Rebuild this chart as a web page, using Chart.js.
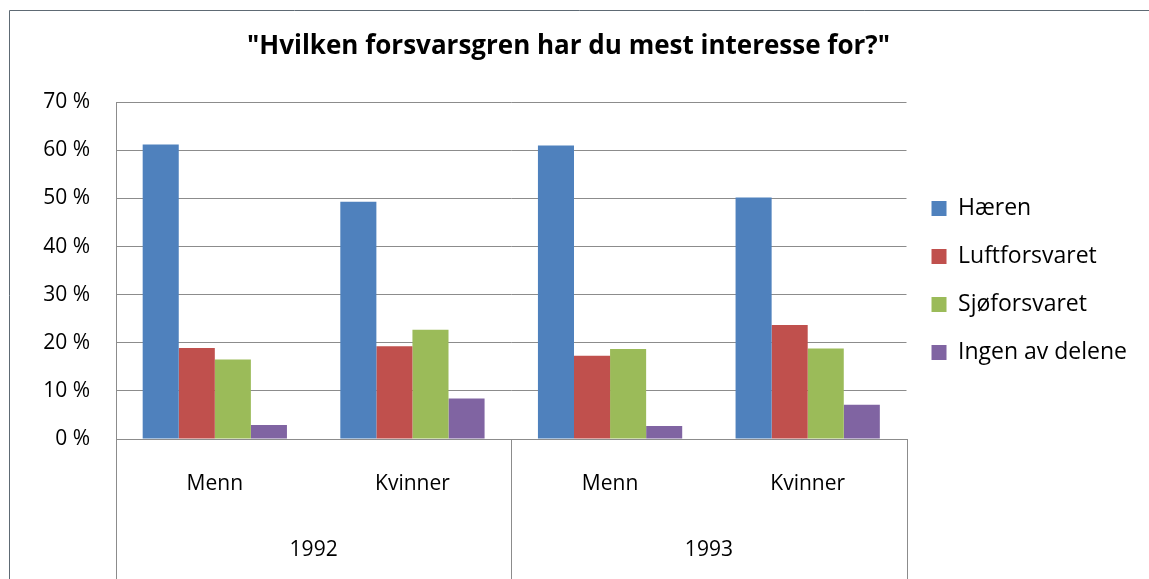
<!DOCTYPE html>
<html>
<head>
<meta charset="utf-8">
<script src="https://cdn.jsdelivr.net/npm/chart.js@4"></script>
<style>
  html, body { margin: 0; padding: 0; background: #fff; }
  #wrap { width: 1149px; height: 579px; position: relative; }
</style>
</head>
<body>
<div id="wrap"><canvas id="chart"></canvas></div>
<script>
const groups = ['Menn', 'Kvinner', 'Menn', 'Kvinner']
const years = ['1992', '1993']
const yTicks = [0, 10, 20, 30, 40, 50, 60, 70]

const haeren = [61.2, 49.3, 61.0, 50.2]
const luftforsvaret = [18.9, 19.3, 17.3, 23.7]
const sjoforsvaret = [16.5, 22.7, 18.7, 18.8]
const ingen = [2.9, 8.4, 2.7, 7.1]

const font = '"Open Sans", Lato, sans-serif'
const gridGrey = '#8c8c8c'

// frame round the chart + the year separators under the axis
const framePlugin = {
    id: 'frame',
    beforeDraw(chart) {
        const c = chart.ctx
        c.save()
        c.strokeStyle = '#5e6a74'
        c.lineWidth = 1
        c.beginPath()
        c.moveTo(9.5, chart.height + 2)
        c.lineTo(9.5, 10.5)
        c.lineTo(chart.width + 2, 10.5)
        c.stroke()
        c.restore()
    },
    afterDraw(chart) {
        const x = chart.scales.x
        const c = chart.ctx
        const mid = (x.getPixelForValue(1) + x.getPixelForValue(2)) / 2
        c.save()
        c.strokeStyle = gridGrey
        c.lineWidth = 1
        c.beginPath()
        ;[x.left, mid, x.right].forEach(px => {
            const p = Math.round(px) + 0.5
            c.moveTo(p, chart.chartArea.bottom)
            c.lineTo(p, chart.height)
        })
        c.stroke()
        c.restore()
    }
}

function build() {
    const ctx = document.getElementById('chart').getContext('2d')
    const chart = new Chart(ctx, {
        type: 'bar',
        plugins: [framePlugin],
        data: {
            labels: groups,
            datasets: [
                { label: 'Hæren', data: haeren, backgroundColor: '#4F81BD' },
                { label: 'Luftforsvaret', data: luftforsvaret, backgroundColor: '#C0504D' },
                { label: 'Sjøforsvaret', data: sjoforsvaret, backgroundColor: '#9BBB59' },
                { label: 'Ingen av delene', data: ingen, backgroundColor: '#8064A2' }
            ]
        },
        options: {
            responsive: true,
            maintainAspectRatio: false,
            animation: false,
            categoryPercentage: 0.73,
            barPercentage: 1.0,
            layout: { padding: { left: 0, right: 12, top: 0, bottom: 18 } },
            scales: {
                y: {
                    min: 0,
                    max: 70,
                    afterFit: s => { s.width = 116 },
                    afterBuildTicks: s => { s.ticks = yTicks.map(v => ({ value: v })) },
                    ticks: {
                        padding: 26,
                        color: '#000',
                        font: { family: font, size: 21 },
                        callback: v => v + ' %'
                    },
                    grid: { color: gridGrey, drawTicks: false },
                    border: { color: gridGrey }
                },
                x: {
                    weight: 0,
                    afterFit: s => { s.height = 56 },
                    grid: { display: false },
                    border: { color: gridGrey },
                    ticks: {
                        padding: 24,
                        color: '#000',
                        font: { family: font, size: 21 }
                    }
                },
                x2: {
                    type: 'category',
                    labels: years,
                    position: 'bottom',
                    offset: true,
                    weight: 1,
                    afterFit: s => { s.height = 66 },
                    grid: { display: false },
                    border: { display: false },
                    ticks: {
                        padding: 34,
                        color: '#000',
                        font: { family: font, size: 21 }
                    }
                }
            },
            plugins: {
                legend: {
                    position: 'right',
                    labels: {
                        boxWidth: 15,
                        boxHeight: 15,
                        padding: 25,
                        color: '#000',
                        font: { family: font, size: 23 }
                    }
                },
                title: {
                    display: true,
                    text: '"Hvilken forsvarsgren har du mest interesse for?"',
                    color: '#000',
                    font: { family: font, size: 26, weight: 'bold' },
                    padding: { top: 31, bottom: 40 }
                },
                tooltip: { enabled: false }
            }
        }
    })
}

Promise.all([
    document.fonts.load('21px "Open Sans"'),
    document.fonts.load('bold 26px "Open Sans"')
]).then(build, build)
</script>
</body>
</html>
